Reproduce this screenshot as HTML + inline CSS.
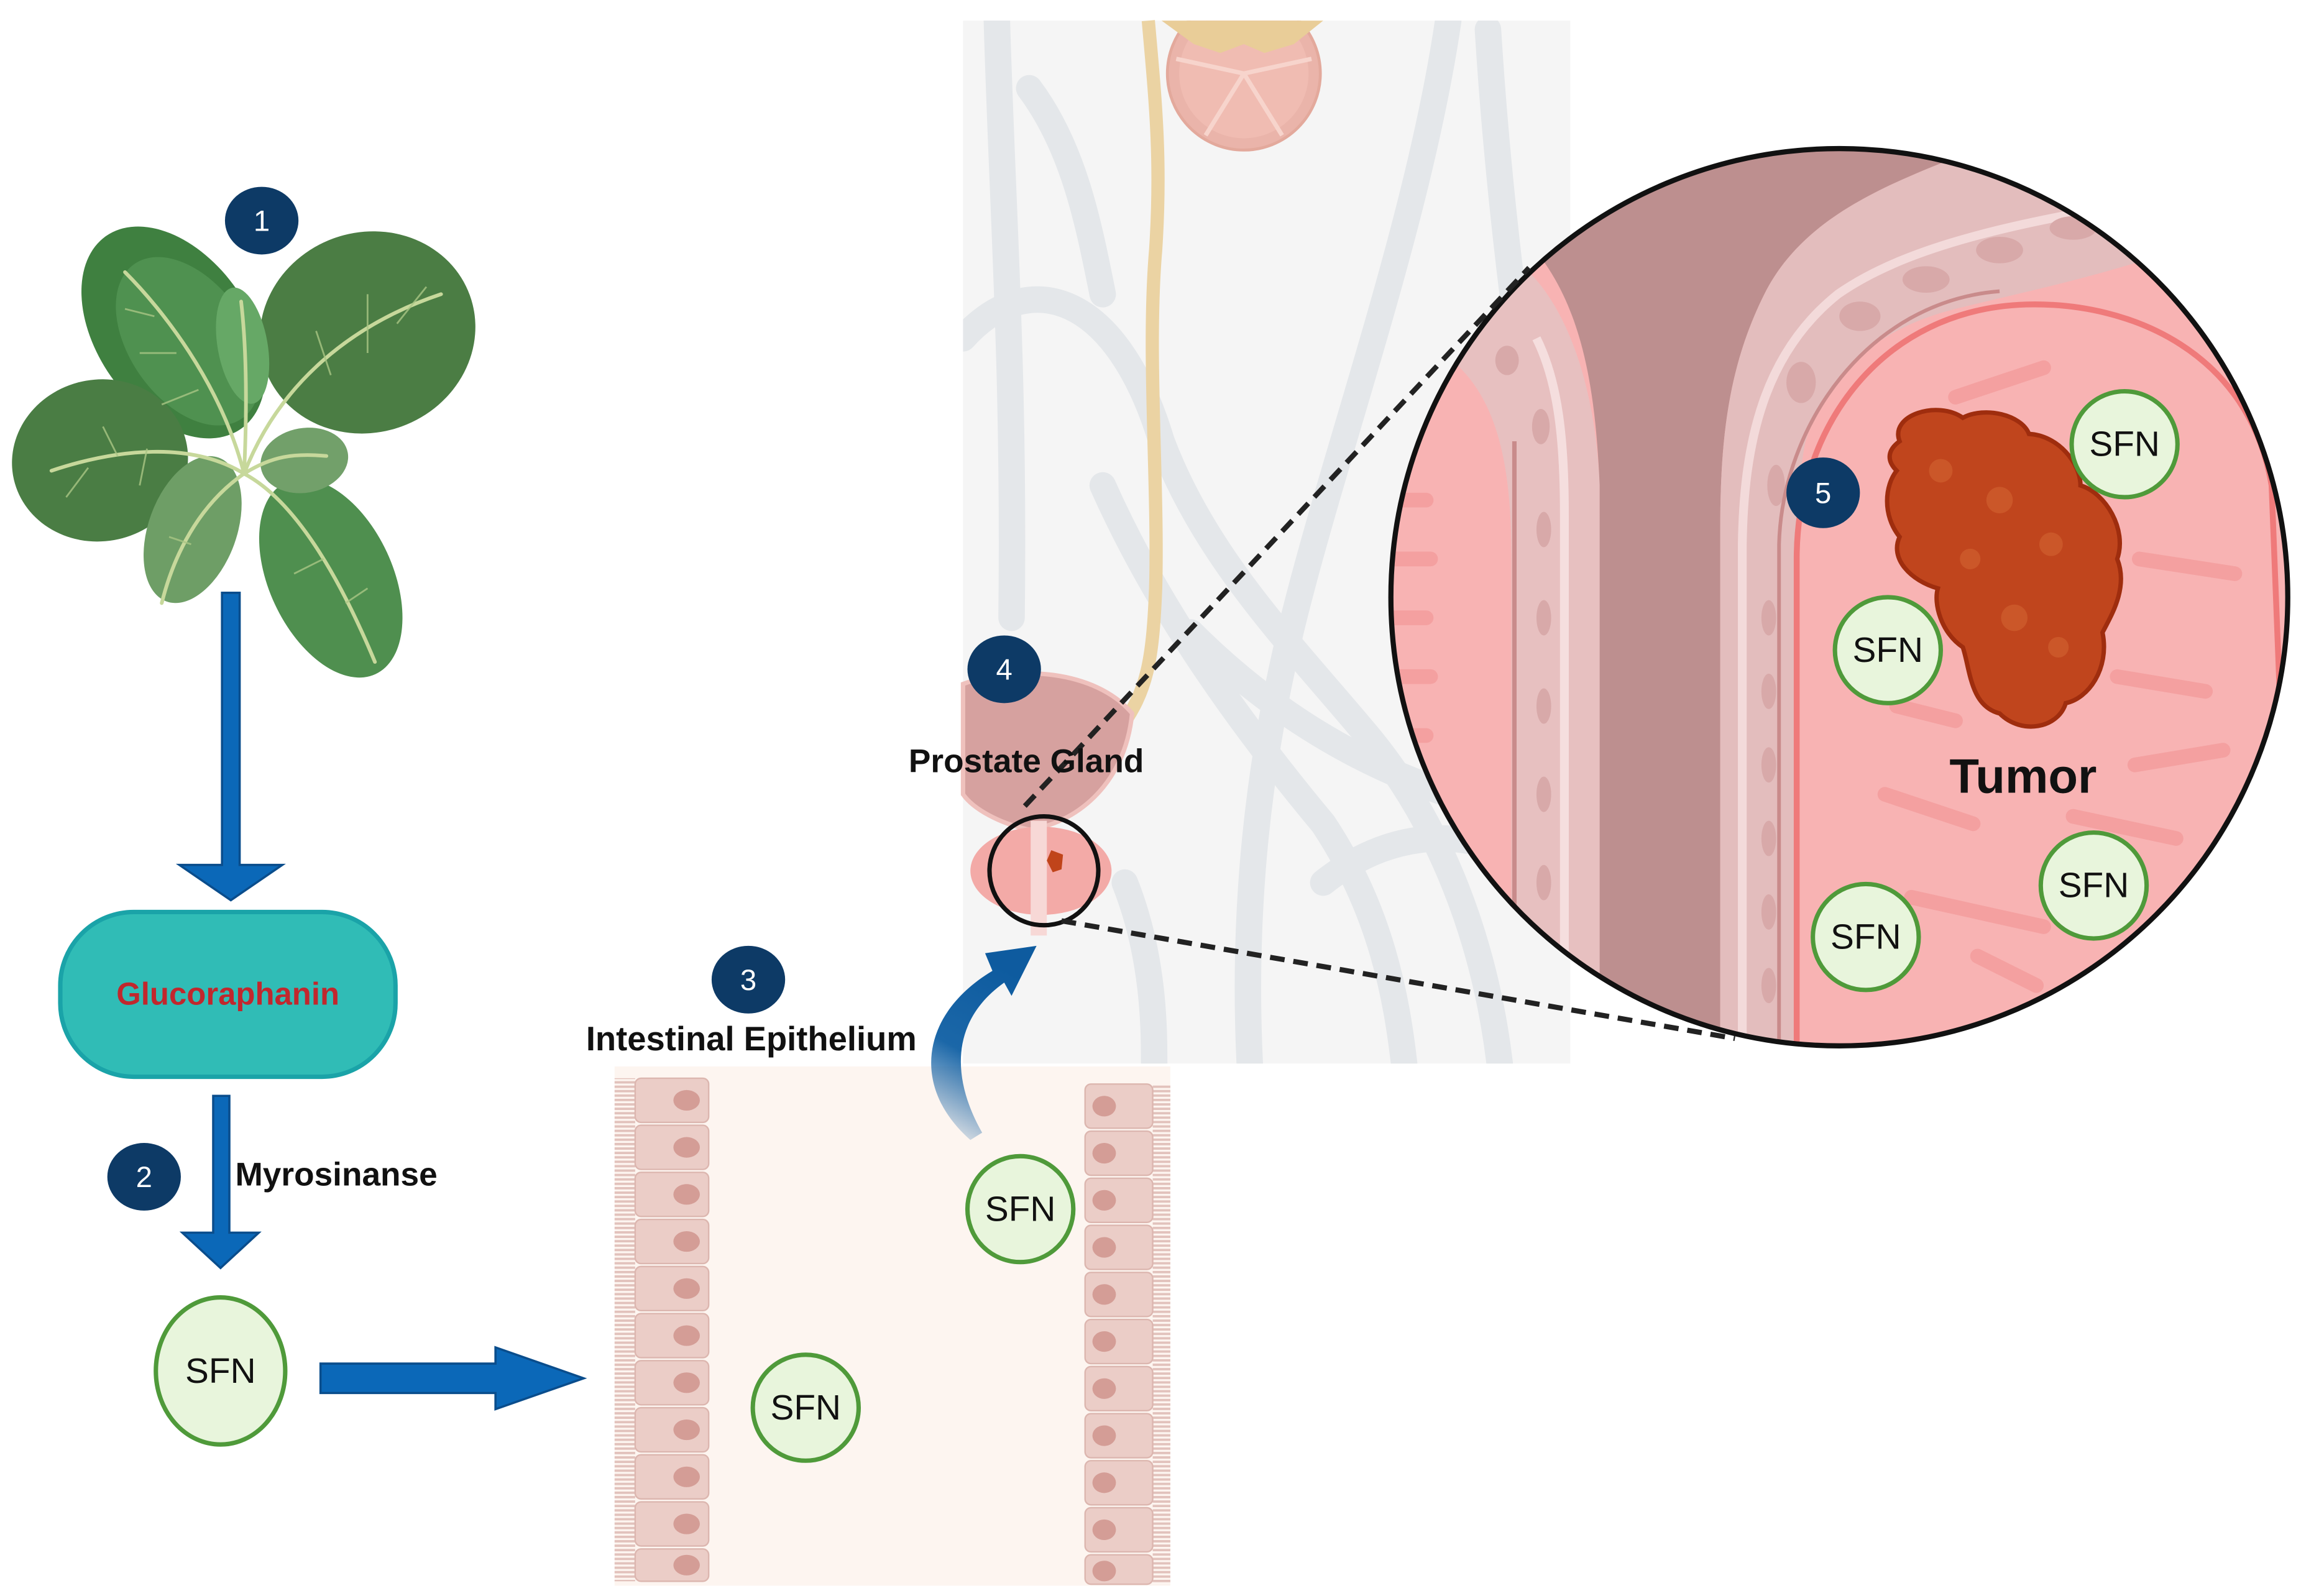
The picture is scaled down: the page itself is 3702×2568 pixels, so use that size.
<!DOCTYPE html>
<html><head><meta charset="utf-8"><style>
html,body{margin:0;padding:0;background:#fff}
svg{display:block}
text{font-family:"Liberation Sans",sans-serif}
</style></head><body>
<svg width="3702" height="2568" viewBox="0 0 1565 1085" preserveAspectRatio="none" xmlns="http://www.w3.org/2000/svg">
<defs>
<clipPath id="bc"><circle cx="1251" cy="406" r="305"/></clipPath>
<clipPath id="body"><rect x="655" y="14" width="413" height="709"/></clipPath>
<clipPath id="kid"><rect x="780" y="14" width="130" height="100"/></clipPath>
<linearGradient id="cg" x1="0" y1="1" x2="0.3" y2="0"><stop offset="0" stop-color="#0c5a9e" stop-opacity="0"/><stop offset="0.5" stop-color="#1b67a8"/><stop offset="1" stop-color="#0e5b9f"/></linearGradient>
<pattern id="mv" width="14" height="3" patternUnits="userSpaceOnUse"><rect width="14" height="1.6" fill="#e2c2bc"/></pattern>
</defs>
<rect width="1565" height="1085" fill="#fff"/>

<!-- body panel -->
<rect x="655" y="14" width="413" height="709" fill="#f5f5f5"/>
<g clip-path="url(#body)" fill="none" stroke="#e4e7ea" stroke-width="18" stroke-linecap="round">
<path d="M678 14 C682 150 690 250 688 420"/>
<path d="M700 60 C730 100 740 150 750 200"/>
<path d="M655 230 C700 180 760 200 790 300 C820 380 880 440 930 500 C980 560 1010 640 1020 723"/>
<path d="M750 330 C790 420 850 500 900 560 C940 620 950 680 955 723"/>
<path d="M985 14 C965 150 910 300 880 420 C855 520 845 620 850 723"/>
<path d="M810 430 C880 500 960 540 1060 560"/>
<path d="M900 600 C950 560 1010 560 1060 600"/>
<path d="M765 600 C785 650 785 700 785 723"/>
<path d="M1012 20 C1020 150 1040 300 1060 400"/>
</g>
<!-- kidney -->
<g clip-path="url(#kid)">
<circle cx="846" cy="50" r="52" fill="#eab4aa" stroke="#e3a99c" stroke-width="2"/>
<circle cx="846" cy="50" r="44" fill="#f0bcb2"/>
<path d="M846 50 L800 40 M846 50 L820 92 M846 50 L872 92 M846 50 L892 40" stroke="#f7d4cc" stroke-width="3"/>
<path d="M790 14 L900 14 L880 30 L860 36 L846 30 L830 36 L812 30Z" fill="#e9cd98"/>
</g>
<!-- ureter -->
<path d="M781 14 C786 70 790 110 786 170 C780 240 788 330 786 400 C784 450 780 470 762 495" fill="none" stroke="#ebd3a3" stroke-width="9"/>
<!-- bladder -->
<path d="M655 465 C690 452 745 455 770 485 C765 535 730 560 700 564 C680 560 662 550 655 540Z" fill="#d6a19f" stroke="#efc1bd" stroke-width="3"/>
<ellipse cx="708" cy="592" rx="48" ry="30" fill="#f3aaa7"/>
<rect x="701" y="558" width="11" height="78" fill="#f7d8d6"/>
<path d="M715 578 l8 3 -1 10 -6 2 -4 -8Z" fill="#c0441a"/>
<circle cx="710" cy="592" r="37" fill="none" stroke="#111" stroke-width="3"/>

<!-- big circle -->
<g clip-path="url(#bc)">
<rect x="940" y="95" width="620" height="620" fill="#f8b3b3"/>
<!-- left wall band -->
<path d="M985 243 C1020 270 1028 320 1028 380 L1028 715 L1090 715 L1088 330 C1085 260 1065 210 1040 185 L1020 170Z" fill="#e7c0c0"/>
<path d="M1045 230 C1060 260 1064 300 1064 350 L1064 715" fill="none" stroke="#f5dede" stroke-width="6"/>
<path d="M1030 300 L1030 715" fill="none" stroke="#c98b8b" stroke-width="3"/>
<!-- brown channel -->
<path d="M1030 95 L1360 95 C1300 120 1230 140 1200 200 C1175 250 1170 300 1170 360 L1170 715 L1088 715 L1088 330 C1085 260 1075 200 1035 160Z" fill="#bd8f8f"/>
<!-- right wall band -->
<path d="M1170 715 L1170 360 C1170 300 1175 250 1200 200 C1230 140 1300 120 1360 95 L1470 95 L1480 170 C1420 190 1370 200 1330 210 C1270 225 1240 260 1228 300 C1222 330 1222 360 1222 400 L1222 715Z" fill="#e3bdbd"/>
<path d="M1185 715 L1185 370 C1186 300 1200 240 1250 200 C1300 165 1380 150 1470 135" fill="none" stroke="#f3dada" stroke-width="6"/>
<g fill="#d8a9a9">
<ellipse cx="1203" cy="420" rx="5" ry="12"/><ellipse cx="1203" cy="470" rx="5" ry="12"/><ellipse cx="1203" cy="520" rx="5" ry="12"/><ellipse cx="1203" cy="570" rx="5" ry="12"/><ellipse cx="1203" cy="620" rx="5" ry="12"/><ellipse cx="1203" cy="670" rx="5" ry="12"/>
<ellipse cx="1208" cy="330" rx="6" ry="14"/><ellipse cx="1225" cy="260" rx="10" ry="14"/><ellipse cx="1265" cy="215" rx="14" ry="10"/><ellipse cx="1310" cy="190" rx="16" ry="9"/><ellipse cx="1360" cy="170" rx="16" ry="9"/><ellipse cx="1410" cy="155" rx="16" ry="8"/>
<ellipse cx="1048" cy="290" rx="6" ry="12"/><ellipse cx="1050" cy="360" rx="5" ry="12"/><ellipse cx="1050" cy="420" rx="5" ry="12"/><ellipse cx="1050" cy="480" rx="5" ry="12"/><ellipse cx="1050" cy="540" rx="5" ry="12"/><ellipse cx="1050" cy="600" rx="5" ry="12"/><ellipse cx="1050" cy="660" rx="5" ry="12"/><ellipse cx="1025" cy="245" rx="8" ry="10"/>
</g>
<!-- gland -->
<path d="M1222 715 L1222 380 C1222 290 1280 210 1378 207 C1450 205 1530 240 1545 330 L1560 715Z" fill="#f8b3b3" stroke="#ef7a7a" stroke-width="4"/>
<path d="M1210 715 L1210 370 C1212 290 1270 205 1360 198" fill="none" stroke="#c98b8b" stroke-width="2.5"/>
<g fill="none" stroke="#f39a9a" stroke-width="10" stroke-linecap="round" opacity="0.75">
<path d="M1330 270 l60 -20"/><path d="M1455 380 l65 10"/><path d="M1440 460 l60 10"/><path d="M1282 540 l60 20"/><path d="M1300 610 l90 20"/><path d="M1452 520 l60 -10"/><path d="M1290 480 l40 10"/><path d="M1410 555 l70 15"/><path d="M1345 650 l40 20"/>
<path d="M948 340 l22 0"/><path d="M948 380 l25 0"/><path d="M948 420 l22 0"/><path d="M948 460 l25 0"/><path d="M948 500 l22 0"/><path d="M948 540 l25 0"/><path d="M948 580 l20 0"/>
</g>
</g>
<circle cx="1251" cy="406" r="305" fill="none" stroke="#111" stroke-width="3.5"/>
<!-- dashed lines -->
<line x1="697" y1="548" x2="1040" y2="182" stroke="#222" stroke-width="3.5" stroke-dasharray="10,6"/>
<line x1="722" y1="626" x2="1180" y2="706" stroke="#222" stroke-width="3.5" stroke-dasharray="10,6"/>
<!-- tumor -->
<path d="M1292 300 C1285 282 1318 272 1335 284 C1350 276 1375 282 1380 295 C1400 296 1415 315 1415 330 C1432 335 1447 360 1440 380 C1448 400 1435 420 1430 430 C1435 455 1420 475 1405 478 C1400 495 1375 500 1360 485 C1340 480 1340 455 1335 440 C1320 430 1315 410 1318 400 C1300 395 1285 380 1292 365 C1280 350 1282 330 1290 320 C1282 312 1285 305 1292 300Z" fill="#c0451d" stroke="#9f2d0e" stroke-width="3"/>
<g fill="#d0602f" opacity="0.7"><circle cx="1320" cy="320" r="8"/><circle cx="1360" cy="340" r="9"/><circle cx="1395" cy="370" r="8"/><circle cx="1370" cy="420" r="9"/><circle cx="1400" cy="440" r="7"/><circle cx="1340" cy="380" r="7"/></g>
<text x="1376" y="539" font-size="33" font-weight="bold" text-anchor="middle" fill="#111">Tumor</text>

<!-- intestinal -->
<rect x="418" y="725" width="378" height="353" fill="#fdf5f0"/>
<rect x="418" y="733" width="14" height="342" fill="url(#mv)"/>
<rect x="784" y="737" width="12" height="340" fill="url(#mv)"/>
<g fill="#ebcdc7" stroke="#dcb6af" stroke-width="1">
<rect x="432" y="733" width="50" height="30" rx="4"/><rect x="432" y="765" width="50" height="30" rx="4"/><rect x="432" y="797" width="50" height="30" rx="4"/><rect x="432" y="829" width="50" height="30" rx="4"/><rect x="432" y="861" width="50" height="30" rx="4"/><rect x="432" y="893" width="50" height="30" rx="4"/><rect x="432" y="925" width="50" height="30" rx="4"/><rect x="432" y="957" width="50" height="30" rx="4"/><rect x="432" y="989" width="50" height="30" rx="4"/><rect x="432" y="1021" width="50" height="30" rx="4"/><rect x="432" y="1053" width="50" height="22" rx="4"/>
<rect x="738" y="737" width="46" height="30" rx="4"/><rect x="738" y="769" width="46" height="30" rx="4"/><rect x="738" y="801" width="46" height="30" rx="4"/><rect x="738" y="833" width="46" height="30" rx="4"/><rect x="738" y="865" width="46" height="30" rx="4"/><rect x="738" y="897" width="46" height="30" rx="4"/><rect x="738" y="929" width="46" height="30" rx="4"/><rect x="738" y="961" width="46" height="30" rx="4"/><rect x="738" y="993" width="46" height="30" rx="4"/><rect x="738" y="1025" width="46" height="30" rx="4"/><rect x="738" y="1057" width="46" height="20" rx="4"/>
</g>
<g fill="#d49d96">
<ellipse cx="467" cy="748" rx="9" ry="7"/><ellipse cx="467" cy="780" rx="9" ry="7"/><ellipse cx="467" cy="812" rx="9" ry="7"/><ellipse cx="467" cy="844" rx="9" ry="7"/><ellipse cx="467" cy="876" rx="9" ry="7"/><ellipse cx="467" cy="908" rx="9" ry="7"/><ellipse cx="467" cy="940" rx="9" ry="7"/><ellipse cx="467" cy="972" rx="9" ry="7"/><ellipse cx="467" cy="1004" rx="9" ry="7"/><ellipse cx="467" cy="1036" rx="9" ry="7"/><ellipse cx="467" cy="1064" rx="9" ry="7"/>
<ellipse cx="751" cy="752" rx="8" ry="7"/><ellipse cx="751" cy="784" rx="8" ry="7"/><ellipse cx="751" cy="816" rx="8" ry="7"/><ellipse cx="751" cy="848" rx="8" ry="7"/><ellipse cx="751" cy="880" rx="8" ry="7"/><ellipse cx="751" cy="912" rx="8" ry="7"/><ellipse cx="751" cy="944" rx="8" ry="7"/><ellipse cx="751" cy="976" rx="8" ry="7"/><ellipse cx="751" cy="1008" rx="8" ry="7"/><ellipse cx="751" cy="1040" rx="8" ry="7"/><ellipse cx="751" cy="1068" rx="8" ry="7"/>
</g>
<!-- curved arrow -->
<path d="M660 775 C620 740 625 690 675 660 L670 648 L705 643 L688 677 L683 668 C645 695 648 735 668 770Z" fill="url(#cg)"/>

<!-- plant -->
<g stroke="none">
<ellipse cx="118" cy="226" rx="52" ry="80" transform="rotate(-35 118 226)" fill="#3f8040"/>
<ellipse cx="128" cy="232" rx="40" ry="64" transform="rotate(-35 128 232)" fill="#4f9150"/>
<ellipse cx="250" cy="226" rx="74" ry="68" transform="rotate(-20 250 226)" fill="#4b7d44"/>
<ellipse cx="68" cy="313" rx="60" ry="55" transform="rotate(-10 68 313)" fill="#4a7d44"/>
<ellipse cx="225" cy="393" rx="42" ry="72" transform="rotate(-25 225 393)" fill="#4f8f4f"/>
<ellipse cx="131" cy="360" rx="30" ry="52" transform="rotate(20 131 360)" fill="#6e9e66"/>
<ellipse cx="207" cy="313" rx="30" ry="22" transform="rotate(-10 207 313)" fill="#72a06a"/>
<ellipse cx="165" cy="235" rx="17" ry="40" transform="rotate(-10 165 235)" fill="#66a866"/>
</g>
<g fill="none" stroke="#c7d89b" stroke-width="2.5" stroke-linecap="round">
<path d="M166 322 C150 260 110 210 85 185"/>
<path d="M166 322 C190 260 240 220 300 200"/>
<path d="M166 322 C130 300 80 305 35 320"/>
<path d="M166 322 C200 340 230 390 255 450"/>
<path d="M166 322 C140 340 120 370 110 410"/>
<path d="M166 322 C185 310 200 308 222 310"/>
<path d="M166 322 C168 280 168 240 164 205"/>
</g>
<g fill="none" stroke="#a9c585" stroke-width="1.2" opacity="0.8">
<path d="M120 240 l-25 0 M105 215 l-20 -5 M135 265 l-25 10 M250 240 l0 -40 M270 220 l20 -25 M225 255 l-10 -30 M80 310 l-10 -20 M60 318 l-15 20 M100 305 l-5 25 M220 380 l-20 10 M235 410 l15 -10 M130 370 l-15 -5"/>
</g>

<!-- arrows -->
<path d="M151 403 H163 V588 H192 L157 612 L122 588 H151Z" fill="#0b68b8" stroke="#0a4d8c" stroke-width="1.5"/>
<path d="M145 745 H156 V838 H176 L150 862 L124 838 H145Z" fill="#0b68b8" stroke="#0a4d8c" stroke-width="1.5"/>
<path d="M218 927 H337 V916 L397 937 L337 958 V947 H218Z" fill="#0b68b8" stroke="#0a4d8c" stroke-width="1.5"/>

<!-- glucoraphanin -->
<rect x="41" y="620" width="228" height="112" rx="50" fill="#30bcb6" stroke="#1aa3a8" stroke-width="3"/>
<text x="155" y="683" font-size="21.5" font-weight="bold" text-anchor="middle" fill="#c1272d">Glucoraphanin</text>
<text x="160" y="806" font-size="22.5" font-weight="bold" fill="#111">Myrosinanse</text>
<text x="511" y="714" font-size="23" font-weight="bold" text-anchor="middle" fill="#111">Intestinal Epithelium</text>
<text x="698" y="525" font-size="22.5" font-weight="bold" text-anchor="middle" fill="#111">Prostate Gland</text>

<!-- SFN -->
<g fill="#e8f5dc" stroke="#4f9a3a" stroke-width="3">
<ellipse cx="150" cy="932" rx="44" ry="50"/>
<circle cx="548" cy="957" r="36"/><circle cx="694" cy="822" r="36"/>
<circle cx="1445" cy="302" r="36"/><circle cx="1284" cy="442" r="36"/><circle cx="1424" cy="602" r="36"/><circle cx="1269" cy="637" r="36"/>
</g>
<g font-size="24" text-anchor="middle" fill="#111">
<text x="150" y="940">SFN</text><text x="548" y="965">SFN</text><text x="694" y="830">SFN</text>
<text x="1445" y="310">SFN</text><text x="1284" y="450">SFN</text><text x="1424" y="610">SFN</text><text x="1269" y="645">SFN</text>
</g>

<!-- badges -->
<g fill="#0d3a66">
<ellipse cx="178" cy="150" rx="25" ry="23"/><ellipse cx="98" cy="800" rx="25" ry="23"/><ellipse cx="509" cy="666" rx="25" ry="23"/><ellipse cx="683" cy="455" rx="25" ry="23"/><ellipse cx="1240" cy="335" rx="25" ry="24"/>
</g>
<g font-size="20" text-anchor="middle" fill="#fff">
<text x="178" y="157">1</text><text x="98" y="807">2</text><text x="509" y="673">3</text><text x="683" y="462">4</text><text x="1240" y="342">5</text>
</g>
</svg>
</body></html>
